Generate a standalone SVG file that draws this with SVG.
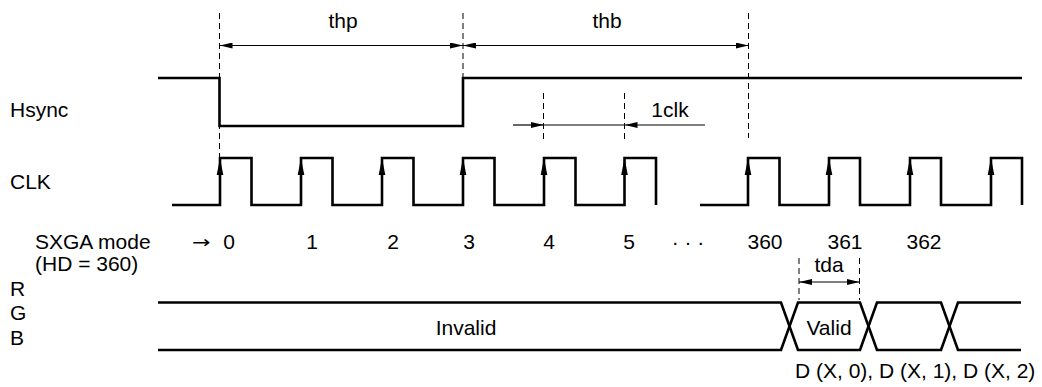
<svg xmlns="http://www.w3.org/2000/svg" width="1042" height="387" viewBox="0 0 1042 387">
<style>
text{font-family:"Liberation Sans",Arial,sans-serif;font-size:21px;fill:#000}
.m{text-anchor:middle}
.arr{font-family:"DejaVu Sans",sans-serif;font-size:17px}
.sig{fill:none;stroke:#000;stroke-width:2.6;stroke-linejoin:miter}
.dash{fill:none;stroke:#000;stroke-width:1;stroke-dasharray:6 4}
.dim{fill:none;stroke:#000;stroke-width:1.2}
</style>
<defs>
<marker id="ah" markerWidth="13" markerHeight="6" refX="13" refY="3" orient="auto-start-reverse" markerUnits="userSpaceOnUse">
<path d="M0,0 L13,3 L0,6 z" fill="#000"/>
</marker>
<path id="up" d="M0,0 L3.3,17 L-3.3,17 z" fill="#000"/>
</defs>
<g id="labels">
<text x="10" y="117">Hsync</text>
<text x="10" y="189">CLK</text>
<text x="35" y="249">SXGA mode</text>
<text x="35" y="271">(HD = 360)</text>
<text x="10" y="296">R</text>
<text x="10" y="320">G</text>
<text x="10" y="345">B</text>
</g>
<g id="hsync">
<path class="sig" d="M158,78 H219.5 V126 H463 V78 H1022"/>
</g>
<g id="clk">
<path class="sig" d="M172,205 H220 V158 H251.5 V205 H301 V158 H332.5 V205 H382 V158 H413.5 V205 H463 V158 H494.5 V205 H544 V158 H575.5 V205 H624.5 V158 H656 V205"/>
<path class="sig" d="M700,205 H748 V158 H779.5 V205 H829 V158 H860 V205 H910 V158 H941 V205 H991 V158 H1022 V205"/>
<use href="#up" x="220" y="158"/>
<use href="#up" x="301" y="158"/>
<use href="#up" x="382" y="158"/>
<use href="#up" x="463" y="158"/>
<use href="#up" x="544" y="158"/>
<use href="#up" x="624.5" y="158"/>
<use href="#up" x="748" y="158"/>
<use href="#up" x="829" y="158"/>
<use href="#up" x="910" y="158"/>
<use href="#up" x="991" y="158"/>
</g>
<g id="counts">
<text class="arr" transform="translate(192,248) scale(1.3,1)">→</text>
<text x="229" y="249" class="m">0</text>
<text x="312" y="249" class="m">1</text>
<text x="393" y="249" class="m">2</text>
<text x="469" y="249" class="m">3</text>
<text x="549" y="249" class="m">4</text>
<text x="629" y="249" class="m">5</text>
<text x="688" y="249" class="m">· · ·</text>
<text x="765" y="249" class="m">360</text>
<text x="845" y="249" class="m">361</text>
<text x="924" y="249" class="m">362</text>
</g>
<g id="rgb">
<path class="sig" d="M158,302.5 H781 L798,350 H860 L877,302.5 H941 L958,350 H1021"/>
<path class="sig" d="M158,350 H781 L798,302.5 H860 L877,350 H941 L958,302.5 H1021"/>
<text x="466" y="335" class="m">Invalid</text>
<text x="829" y="335" class="m">Valid</text>
<text x="795" y="378">D (X, 0), D (X, 1), D (X, 2)</text>
</g>
<g id="connectors">
<line class="dash" x1="219.5" y1="13" x2="219.5" y2="157"/>
<line class="dash" x1="463" y1="13" x2="463" y2="78"/>
<line class="dash" x1="748.5" y1="13" x2="748.5" y2="138"/>
<line class="dash" x1="543.5" y1="93" x2="543.5" y2="142"/>
<line class="dash" x1="624.5" y1="93" x2="624.5" y2="142"/>
<line class="dash" x1="799" y1="258" x2="799" y2="300"/>
<line class="dash" x1="859.5" y1="258" x2="859.5" y2="300"/>
<line class="dim" x1="219.5" y1="45.5" x2="463" y2="45.5" marker-start="url(#ah)" marker-end="url(#ah)"/>
<line class="dim" x1="463" y1="45.5" x2="748.5" y2="45.5" marker-start="url(#ah)" marker-end="url(#ah)"/>
<line class="dim" x1="513" y1="125" x2="543.5" y2="125" marker-end="url(#ah)"/>
<line class="dim" x1="543.5" y1="125" x2="624.5" y2="125"/>
<line class="dim" x1="705" y1="125" x2="624.5" y2="125" marker-end="url(#ah)"/>
<line class="dim" x1="799" y1="282" x2="859.5" y2="282" marker-start="url(#ah)" marker-end="url(#ah)"/>
<text x="343" y="28" class="m">thp</text>
<text x="607" y="28" class="m">thb</text>
<text x="670" y="117" class="m">1clk</text>
<text x="829" y="272" class="m">tda</text>
</g>
</svg>
